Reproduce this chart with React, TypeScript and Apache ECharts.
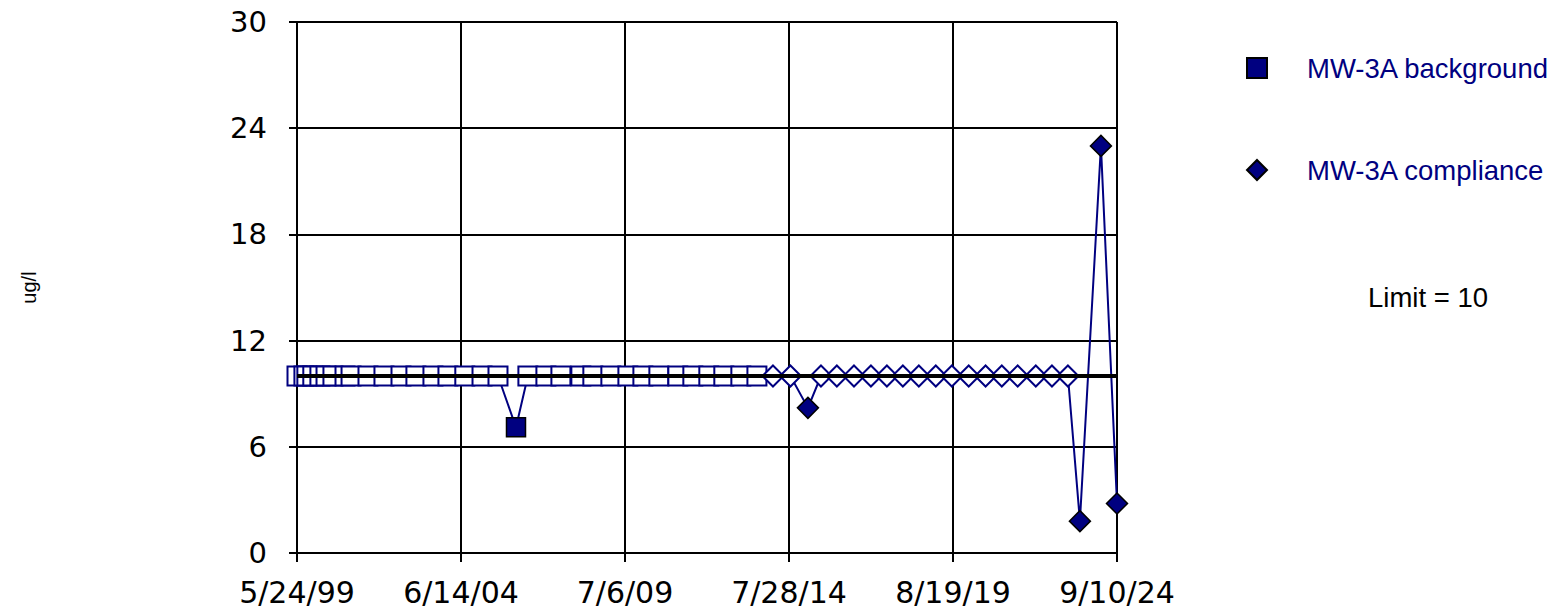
import React, { useEffect, useRef } from "react";
import * as echarts from "echarts";

const NAVY = "#000080";
const FONT = "'Liberation Sans', Arial, sans-serif";
const AXIS_FONT = "'DejaVu Sans', 'Liberation Sans', Arial, sans-serif";

const axisStart = "1999-05-24";
const axisEnd = "2024-09-10";
const yTicks = [0, 6, 12, 18, 24, 30];

const bgDates = [
  "1999-05-24", "1999-08-10", "1999-09-12", "1999-11-18", "2000-02-06", "2000-04-15",
  "2000-07-02", "2000-11-15", "2001-01-22", "2001-08-01", "2002-01-28", "2002-08-08",
  "2003-01-23", "2003-08-03", "2004-01-19", "2004-07-27", "2005-02-06", "2005-08-05",
  "2006-02-24",
  "2006-07-08", "2007-01-27", "2007-07-15", "2008-02-25", "2008-07-09", "2009-01-28",
  "2009-08-08", "2010-01-24", "2010-07-23", "2011-02-22", "2011-08-10", "2012-02-06",
  "2012-07-24", "2013-02-01", "2013-08-01",
];
const bgValues = [
  10, 10, 10, 10, 10, 10, 10, 10, 10, 10, 10, 10, 10, 10, 10, 10, 10, 10,
  7.1,
  10, 10, 10, 10, 10, 10, 10, 10, 10, 10, 10, 10, 10, 10, 10,
];
const bgDetected = [
  false, false, false, false, false, false, false, false, false, false, false, false,
  false, false, false, false, false, false,
  true,
  false, false, false, false, false, false, false, false, false, false, false, false,
  false, false, false,
];

const compDates = [
  "2014-01-29", "2014-08-14", "2015-02-27", "2015-07-24", "2016-01-19", "2016-07-30",
  "2017-02-06", "2017-08-05", "2018-02-01", "2018-07-31", "2019-02-07", "2019-08-07",
  "2020-02-13", "2020-08-21", "2021-02-20", "2021-08-18", "2022-03-10", "2022-09-08",
  "2023-03-07", "2023-07-20", "2024-03-13", "2024-09-10",
];
const compValues = [
  10, 10, 8.2, 10, 10, 10, 10, 10, 10, 10, 10, 10,
  10, 10, 10, 10, 10, 10, 10, 1.8, 23.0, 2.8,
];
const compDetected = [
  false, false, true, false, false, false, false, false, false, false, false, false,
  false, false, false, false, false, false, false, true, true, true,
];

const limitValue = 10;
const limitLabel = "Limit = 10";
const yAxisName = "ug/l";
const seriesNames = ["MW-3A background", "MW-3A compliance"];

const DAY = 86400000;
const toUtc = (s: string) => {
  const [y, m, d] = s.split("-").map(Number);
  return Date.UTC(y, m - 1, d);
};
const BASE = toUtc(axisStart);
const toDay = (s: string) => Math.round((toUtc(s) - BASE) / DAY);
const fmtDay = (v: number) => {
  const d = new Date(BASE + Math.floor(v + 1e-6) * DAY);
  const yy = String(d.getUTCFullYear() % 100).padStart(2, "0");
  return `${d.getUTCMonth() + 1}/${d.getUTCDate()}/${yy}`;
};

const buildData = (dates: string[], values: number[], detected: boolean[]) =>
  dates.map((d, i) => ({
    value: [toDay(d), values[i]],
    itemStyle: detected[i]
      ? { color: NAVY, borderColor: "#000000", borderWidth: 1.5 }
      : { color: "#ffffff", borderColor: NAVY, borderWidth: 2 },
  }));

export default function App() {
  const ref = useRef<HTMLDivElement>(null);

  useEffect(() => {
    if (!ref.current) return;
    const chart = echarts.init(ref.current, null, { renderer: "svg" });
    const maxDay = toDay(axisEnd);
    const interval = maxDay / 5;

    chart.setOption({
      animation: false,
      backgroundColor: "#ffffff",
      textStyle: { fontFamily: FONT },
      grid: { left: 297, right: 1555 - 1117, top: 22, bottom: 613 - 553, containLabel: false },
      legend: {
        orient: "vertical",
        left: 1246,
        top: 54,
        padding: 0,
        itemWidth: 20,
        itemHeight: 20,
        itemGap: 74,
        selectedMode: false,
        data: [
          { name: seriesNames[0], icon: "rect" },
          { name: seriesNames[1], icon: "diamond" },
        ],
        textStyle: {
          color: NAVY,
          fontSize: 27.5,
          fontFamily: FONT,
          padding: [0, 0, 0, 35],
        },
      },
      xAxis: {
        type: "value",
        min: 0,
        max: maxDay,
        interval: interval,
        axisLine: { show: true, onZero: false, lineStyle: { color: "#000", width: 2 } },
        axisTick: { show: true, length: 9, lineStyle: { color: "#000", width: 2 } },
        axisLabel: {
          color: "#000",
          fontSize: 30,
          fontFamily: AXIS_FONT,
          margin: 24,
          formatter: (v: number) => fmtDay(v),
        },
        splitLine: { show: true, lineStyle: { color: "#000", width: 2 } },
      },
      yAxis: {
        type: "value",
        min: yTicks[0],
        max: yTicks[yTicks.length - 1],
        interval: yTicks[1] - yTicks[0],
        name: yAxisName,
        nameLocation: "middle",
        nameRotate: 90,
        nameGap: 258,
        nameTextStyle: { color: "#000", fontSize: 20, fontFamily: FONT },
        axisLine: { show: true, lineStyle: { color: "#000", width: 2 } },
        axisTick: { show: true, length: 8, lineStyle: { color: "#000", width: 2 } },
        axisLabel: { color: "#000", fontSize: 29, fontFamily: AXIS_FONT, margin: 30 },
        splitLine: { show: true, lineStyle: { color: "#000", width: 2 } },
      },
      graphic: [
        {
          type: "text",
          left: 1368,
          top: 283,
          style: { text: limitLabel, fontSize: 27.5, fontFamily: FONT, fill: "#000" },
        },
      ],
      series: [
        {
          name: seriesNames[0],
          type: "line",
          data: buildData(bgDates, bgValues, bgDetected),
          symbol: "rect",
          symbolSize: 19,
          showAllSymbol: true,
          lineStyle: { color: NAVY, width: 2 },
          itemStyle: { color: NAVY, borderColor: "#000000", borderWidth: 1.5 },
          z: 2,
        },
        {
          name: seriesNames[1],
          type: "line",
          data: buildData(compDates, compValues, compDetected),
          symbol: "diamond",
          symbolSize: 21,
          showAllSymbol: true,
          lineStyle: { color: NAVY, width: 2 },
          itemStyle: { color: NAVY, borderColor: "#000000", borderWidth: 1.5 },
          z: 2,
        },
        {
          name: "Limit",
          type: "line",
          data: [
            [0, limitValue],
            [maxDay, limitValue],
          ],
          symbol: "none",
          lineStyle: { color: "#000000", width: 4 },
          z: 5,
          silent: true,
        },
      ],
    });

    return () => chart.dispose();
  }, []);

  return (
    <div
      ref={ref}
      style={{ position: "absolute", left: 0, top: 0, width: 1555, height: 613 }}
    />
  );
}
